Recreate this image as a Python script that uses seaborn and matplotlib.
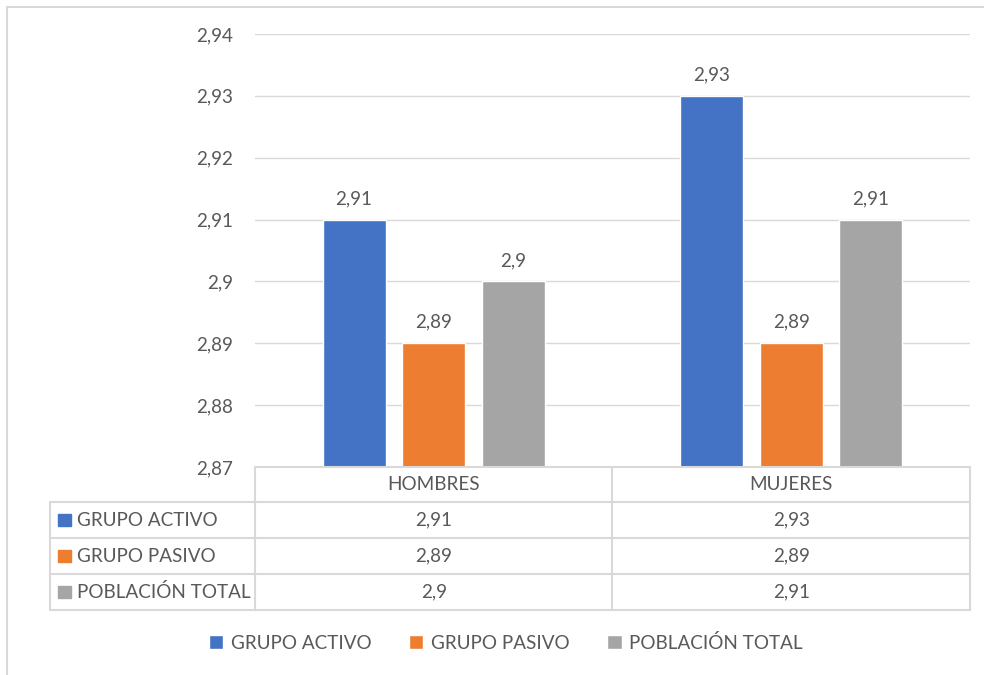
import pandas as pd
import matplotlib.pyplot as plt
import matplotlib.transforms as mtransforms
from matplotlib.lines import Line2D
from matplotlib.patches import Rectangle
import seaborn as sns

plt.switch_backend('Agg')

categories = ["HOMBRES", "MUJERES"]
series = ["GRUPO ACTIVO", "GRUPO PASIVO", "POBLACIÓN TOTAL"]
activo = [2.91, 2.93]
pasivo = [2.89, 2.89]
total = [2.90, 2.91]
colors = ["#4472C4", "#ED7D31", "#A5A5A5"]
yticks = [2.87, 2.88, 2.89, 2.90, 2.91, 2.92, 2.93, 2.94]

TXT = "#595959"
LINE = "#D9D9D9"
FS = 13.6
W, H = 984, 675

sns.set_theme(style="white")
plt.rcParams['font.family'] = ['Lato', 'DejaVu Sans']


def fmt(v):
    return f"{v:g}".replace(".", ",")


def fx(px):
    return px / W


def fy(py):
    return 1 - py / H


df = pd.DataFrame({
    "cat": categories * 3,
    "serie": [s for s in series for _ in categories],
    "valor": activo + pasivo + total,
})

fig = plt.figure(figsize=(W / 100, H / 100), dpi=100)
ax = fig.add_axes([fx(255), fy(467), fx(970) - fx(255), fy(34) - fy(467)])

sns.barplot(data=df, x="cat", y="valor", hue="serie", hue_order=series,
            palette=colors, width=0.668, gap=0.207, saturation=1,
            errorbar=None, ax=ax, legend=True)

ax.set_ylim(2.87, 2.94)
ax.set_yticks(yticks)
ax.set_yticklabels([fmt(v) for v in yticks], color=TXT, fontsize=FS)
ax.tick_params(axis="y", length=0, pad=16)
ax.set_xticks([])
ax.set_xlim(-0.5, 1.5)
ax.set_xlabel("")
ax.set_ylabel("")
ax.grid(axis="y", color=LINE, linewidth=1)
ax.set_axisbelow(True)
for sp in ax.spines.values():
    sp.set_visible(False)

for cont in ax.containers:
    ax.bar_label(cont, labels=[fmt(v) for v in cont.datavalues],
                 padding=9, color=TXT, fontsize=FS)

handles, labels = ax.get_legend_handles_labels()
ax.get_legend().remove()

# data table under the axes
rows_y = [467, 502, 538, 574, 610]
for i, y in enumerate(rows_y):
    x0 = 255 if i == 0 else 50
    fig.add_artist(Line2D([fx(x0), fx(970)], [fy(y), fy(y)], color=LINE,
                          linewidth=1.5, transform=fig.transFigure))
for x in [255, 612, 970]:
    fig.add_artist(Line2D([fx(x), fx(x)], [fy(467), fy(610)], color=LINE,
                          linewidth=1.5, transform=fig.transFigure))
fig.add_artist(Line2D([fx(50), fx(50)], [fy(502), fy(610)], color=LINE,
                      linewidth=1.5, transform=fig.transFigure))

blend = mtransforms.blended_transform_factory(ax.transData, fig.transFigure)
for j, c in enumerate(categories):
    fig.text(j, fy(485), c, transform=blend, ha="center", va="center",
             color=TXT, fontsize=FS)

table_vals = [activo, pasivo, total]
for i, (name, vals, col) in enumerate(zip(series, table_vals, colors)):
    yc = (rows_y[i + 1] + rows_y[i + 2]) / 2
    fig.add_artist(Rectangle((fx(58), fy(yc + 6)), fx(13), fy(yc - 6) - fy(yc + 6),
                             color=col, transform=fig.transFigure))
    fig.text(fx(77), fy(yc), name, ha="left", va="center", color=TXT, fontsize=FS)
    for j, v in enumerate(vals):
        fig.text(j, fy(yc), fmt(v), transform=blend, ha="center", va="center",
                 color=TXT, fontsize=FS)

# outer chart border
fig.add_artist(Rectangle((fx(7), fy(690)), fx(995) - fx(7), fy(7) - fy(690),
                         fill=False, edgecolor=LINE, linewidth=1.5,
                         transform=fig.transFigure))

fig.legend(handles, labels, loc="center", bbox_to_anchor=(fx(506), fy(643)),
           ncol=3, frameon=False, fontsize=FS, labelcolor=TXT,
           handlelength=0.75, handleheight=0.75, handletextpad=0.4,
           columnspacing=2.0)

fig.savefig("out.png", dpi=100)
plt.close(fig)
